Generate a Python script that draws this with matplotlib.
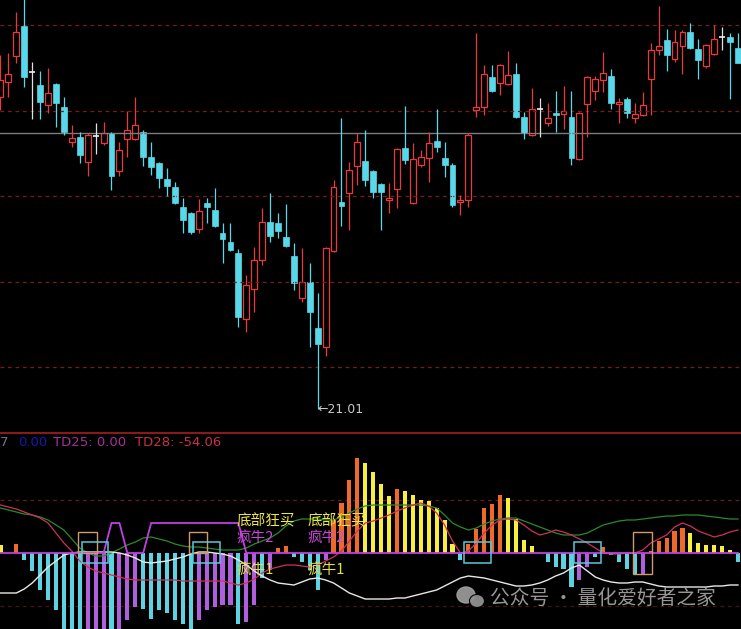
import numpy as np
import matplotlib
matplotlib.use('Agg')
import matplotlib.pyplot as plt
from matplotlib.patches import Rectangle, Ellipse

## ========== daily candles (price)
opens = [28.32, 28.67, 29.28, 29.98, 28.90, 28.60, 28.13, 28.62, 28.08, 27.26,
         27.38, 26.80, 27.40, 27.24, 27.47, 26.59, 27.33, 27.33, 27.50, 26.91,
         26.77, 26.40, 26.21, 25.74, 25.60, 25.23, 25.84, 25.67, 25.14, 24.92,
         24.67, 23.12, 23.82, 24.50, 25.39, 25.37, 25.04, 24.60, 23.61, 23.99,
         22.91, 22.47, 24.71, 25.86, 26.07, 26.70, 26.82, 26.59, 26.28, 25.91,
         26.16, 27.12, 25.84, 26.73, 26.89, 27.29, 26.89, 26.73, 25.86, 25.91,
         28.01, 28.08, 28.78, 28.64, 28.62, 28.85, 27.85, 27.43, 28.03, 27.71,
         27.94, 27.92, 27.85, 26.87, 28.15, 28.46, 28.71, 28.81, 28.15, 28.27,
         27.83, 27.89, 28.74, 29.42, 29.65, 29.20, 29.51, 29.84, 29.44, 29.04,
         29.32, 29.72, 29.72, 29.46]
highs = [29.30, 29.35, 30.30, 30.66, 29.13, 28.92, 28.99, 28.64, 28.32, 27.66,
         27.50, 27.47, 27.71, 27.73, 27.50, 27.26, 27.99, 28.32, 27.54, 27.26,
         26.80, 26.66, 26.33, 25.95, 25.63, 25.93, 25.95, 26.19, 25.37, 25.37,
         24.76, 24.15, 24.81, 25.72, 26.07, 25.60, 25.81, 24.90, 24.78, 24.43,
         23.73, 24.80, 26.37, 27.83, 26.80, 27.47, 27.54, 26.61, 26.30, 26.30,
         27.12, 28.11, 27.24, 27.08, 27.50, 28.03, 27.26, 26.77, 26.02, 27.47,
         29.81, 29.06, 29.06, 29.08, 29.39, 29.11, 27.96, 28.53, 28.29, 28.18,
         28.46, 28.57, 28.46, 27.96, 28.80, 28.81, 29.37, 28.97, 28.29, 28.32,
         28.18, 28.43, 29.58, 30.44, 29.91, 29.88, 29.88, 30.05, 29.67, 29.56,
         30.00, 29.95, 29.81, 29.81]
lows = [28.01, 28.32, 29.11, 28.55, 27.80, 27.80, 27.94, 27.61, 27.43, 27.15,
        26.77, 26.47, 26.98, 27.19, 26.14, 26.47, 26.91, 27.31, 26.70, 26.49,
        26.19, 26.00, 25.81, 25.14, 25.11, 25.14, 25.37, 25.28, 24.43, 24.71,
        22.94, 22.82, 23.29, 24.39, 24.92, 25.02, 24.80, 23.80, 23.52, 22.47,
        21.01, 22.26, 24.70, 25.30, 25.21, 26.26, 26.23, 25.95, 25.21, 25.60,
        25.72, 26.75, 25.82, 26.68, 26.33, 27.03, 26.44, 25.74, 25.56, 25.74,
        27.85, 27.89, 28.43, 28.36, 28.60, 27.83, 27.33, 27.41, 27.38, 27.64,
        27.50, 27.57, 26.73, 26.85, 27.38, 28.25, 28.43, 28.03, 27.71, 27.83,
        27.71, 27.87, 27.89, 29.30, 28.92, 29.13, 28.85, 29.44, 28.74, 29.00,
        29.30, 29.42, 28.27, 29.10]
closes = [28.71, 28.85, 29.84, 28.78, 28.90, 28.20, 28.41, 28.18, 27.50, 27.36,
          26.96, 27.43, 27.40, 27.47, 26.47, 27.08, 27.54, 27.66, 26.91, 26.68,
          26.42, 26.23, 25.84, 25.44, 25.16, 25.65, 25.74, 25.30, 24.99, 24.74,
          23.17, 23.92, 24.50, 25.39, 25.06, 25.18, 24.83, 23.97, 23.99, 23.29,
          22.54, 24.78, 26.21, 25.77, 26.61, 27.26, 26.37, 26.09, 26.09, 25.95,
          27.10, 26.84, 26.87, 26.91, 27.24, 27.15, 26.73, 25.79, 25.91, 27.43,
          28.08, 28.85, 28.46, 29.06, 28.83, 27.85, 27.47, 28.03, 28.03, 27.83,
          27.89, 27.99, 26.89, 27.94, 28.78, 28.74, 28.88, 28.18, 28.20, 27.94,
          27.92, 28.13, 29.42, 29.51, 29.30, 29.60, 29.84, 29.46, 29.18, 29.53,
          29.67, 29.72, 29.60, 29.11]
price_grid = [22, 24, 26, 28, 30]
ref_price = 27.47
low_idx = 40

## ========== indicator panel
hist_vals = [8, 0, 9, -7, -18, -37, -47, -57, -80, -82,
             -85, -85, -85, -85, -85, -80, -67, -54, -56, -66,
             -57, -60, -67, -71, -80, -67, -57, -54, -52, -52,
             -71, -69, -52, -25, -17, 5, 7, -4, -9, -17,
             -37, -7, 33, 50, 73, 95, 90, 81, 69, 57,
             64, 62, 58, 53, 52, 45, 33, 9, -7, 9,
             24, 45, 49, 58, 55, 34, 13, 7, 0, -9,
             -14, -16, -34, -27, -14, -4, 6, -2, -9, -16,
             -21, -21, 2, 12, 15, 22, 25, 20, 10, 8,
             8, 7, 3, -9]
# Y yellow, O orange, C cyan, V violet
hist_kind = ("YYOCCCCCCC" "CVVVCVVVCC" "CCCCCVVVVV" "CVVCVOOCCC" "CVOOOOYYYY"
             "OYYYYYYYCO" "OOOOYYYYYC" "CCCVVCOCCC" "CVOOOOOYYY" "YYYC")
white_line = [-40, -40, -40, -36, -30, -22, -14, -8, -2, 0,
              1, 1, 1, 1, 1, 0, -2, -5, -9, -10,
              -9, -8, -6, -4, -1, 1, 1, 0, -1, -3,
              -7, -12, -18, -23, -27, -30, -31, -32, -29, -26,
              -25, -27, -30, -35, -40, -43, -46, -46, -46, -46,
              -45, -45, -43, -41, -39, -37, -33, -29, -25, -23,
              -24, -25, -27, -29, -31, -33, -33, -32, -30, -27,
              -23, -20, -15, -12, -18, -24, -27, -29, -30, -30,
              -29, -29, -31, -33, -34, -34, -34, -34, -34, -34,
              -33, -33, -32, -32]
pink_line = [48, 46, 44, 41, 38, 35, 30, 20, 10, 2,
             -8, -14, -18, -20, -22, -24, -26, -27, -27, -27,
             -27, -27, -27, -28, -28, -28, -28, -28, -28, -30,
             -32, -30, -26, -20, -16, -14, -12, -12, -13, -14,
             -12, -8, -4, 2, 12, 22, 30, 32, 35, 38,
             42, 45, 48, 50, 47, 40, 28, 12, 0, 2,
             10, 20, 28, 33, 34, 33, 28, 22, 18, 20,
             23, 21, 18, 14, 10, 5, 0, -1, -1, 0,
             0, 3, 10, 14, 18, 26, 30, 27, 22, 19,
             16, 18, 21, 23]
green_line = [45, 43, 41, 39, 38, 36, 33, 28, 23, 14,
              5, 0, -3, -3, 0, 4, 8, 11, 15, 16,
              14, 12, 9, 7, 6, 6, 5, 4, 3, 3,
              3, 5, 9, 12, 15, 20, 27, 32, 34, 34,
              34, 33, 33, 36, 40, 44, 47, 48, 48, 48,
              48, 48, 48, 48, 47, 45, 38, 30, 26, 23,
              25, 29, 32, 34, 35, 35, 32, 29, 26, 23,
              20, 18, 18, 18, 20, 24, 28, 30, 32, 33,
              33, 34, 35, 36, 37, 37, 38, 38, 38, 37,
              36, 35, 34, 34]
step_line = [0] * 94
for k in [14, 15] + list(range(19, 31)):
    step_line[k] = 30
# (start, end, bottom, top)
tan_boxes = [(9.8, 12.2, 0, 21), (23.8, 26.1, 0, 21), (79.8, 82.2, -21, 21)]
cyan_boxes = [(10.3, 13.6, -10, 11), (24.3, 27.7, -10, 11),
              (58.4, 61.8, -10, 11), (72.3, 75.7, -10, 11)]
signal_idx = [29.8, 38.7]

RED = '#e8393c'
CYAN = '#58d8e8'
kind_color = {'Y': '#f6f03c', 'O': '#ee6a2a', 'C': '#5cd2e2', 'V': '#b05ee0'}

plt.rcParams['font.family'] = ['Noto Sans CJK SC', 'DejaVu Sans']

W, H = 741, 629
fig = plt.figure(figsize=(W / 100, H / 100), dpi=100, facecolor='black')
ax1 = fig.add_axes([0, 1 - 432 / H, 1, 432 / H])
ax2 = fig.add_axes([0, 0, 1, 197 / H])
for ax in (ax1, ax2):
    ax.set_facecolor('black')
    ax.axis('off')

n = len(opens)
x = np.arange(n)
xlim = (-0.06, 93.38)

## ========== price panel
for g in price_grid:
    ax1.axhline(g, color='#7a1a1a', lw=0.9, ls=(0, (3, 3)))
ax1.axhline(ref_price, color='#7c7c7c', lw=1.0)

bw = 0.74
for i in x:
    o, h, l, c = opens[i], highs[i], lows[i], closes[i]
    if c > o:
        ax1.vlines(i, c, h, color=RED, lw=0.9)
        ax1.vlines(i, l, o, color=RED, lw=0.9)
        ax1.add_patch(Rectangle((i - bw / 2, o), bw, c - o, fill=False, ec=RED, lw=0.9))
    elif c < o:
        ax1.vlines(i, l, h, color=CYAN, lw=0.9)
        ax1.add_patch(Rectangle((i - bw / 2, c), bw, o - c, fc=CYAN, ec=CYAN, lw=0.5))
    else:
        ax1.vlines(i, l, h, color='#e0e0e0', lw=0.9)
        ax1.hlines(o, i - bw / 2, i + bw / 2, color='#f0f0f0', lw=1.2)

ax1.text(low_idx, lows[low_idx], '\u2190' + f'{lows[low_idx]:.2f}', color='#c8c8c8',
         fontsize=9, family='DejaVu Sans', ha='left', va='center')
ax1.set_xlim(*xlim)
ax1.set_ylim(20.48, 30.585)

## ========== indicator panel
ax2.axhline(53, color='#6a1818', lw=0.9, ls=(0, (3, 3)))
ax2.axhline(-53, color='#4a1414', lw=0.9, ls=(0, (3, 3)))
ax2.bar(x, hist_vals, width=0.52, color=[kind_color[k] for k in hist_kind], zorder=2)
ax2.plot(x, green_line, color='#2a8a2a', lw=0.9, zorder=3)
ax2.plot(x, pink_line, color='#d0305a', lw=0.9, zorder=3)
ax2.plot(x, white_line, color='#e8e8e8', lw=1.0, zorder=3)
ax2.plot(x, step_line, color='#c040e0', lw=1.3, zorder=3)
for x0, x1, b, t in tan_boxes:
    ax2.add_patch(Rectangle((x0, b), x1 - x0, t - b, fill=False, ec='#d09a70', lw=1.0, zorder=4))
for x0, x1, b, t in cyan_boxes:
    ax2.add_patch(Rectangle((x0, b), x1 - x0, t - b, fill=False, ec='#58c8d8', lw=1.1, zorder=4))
for sx in signal_idx:
    ax2.text(sx, 32, '底部狂买', color='#f0e840', fontsize=10.5, ha='left', va='center', zorder=5)
    ax2.text(sx, 15, '疯牛2', color='#c848d8', fontsize=10.5, ha='left', va='center', zorder=5)
    ax2.text(sx, -17, '疯牛1', color='#e8e040', fontsize=10.5, ha='left', va='center', zorder=5)
ax2.axhline(120.3, color='#9a1c1c', lw=1.3)
ax2.set_xlim(*xlim)
ax2.set_ylim(-76, 121)

hy = (H - 443) / 197
ax2.text(0 / W, hy, '7', transform=ax2.transAxes, color='#707090', fontsize=9.5,
         family='DejaVu Sans', va='center')
ax2.text(18 / W, hy, '0.00', transform=ax2.transAxes, color='#1818b0', fontsize=9.5,
         family='DejaVu Sans', va='center')
ax2.text(53 / W, hy, 'TD25: 0.00', transform=ax2.transAxes, color='#a8309a', fontsize=9.5,
         family='DejaVu Sans', va='center')
ax2.text(135 / W, hy, 'TD28: -54.06', transform=ax2.transAxes, color='#c83048', fontsize=9.5,
         family='DejaVu Sans', va='center')

## ========== watermark
fig.text(490 / W, (H - 598) / H, '公众号 · 量化爱好者之家', color='#a8a8a8', alpha=0.9,
         fontsize=14.2, va='center', ha='left')
fig.add_artist(Ellipse((466 / W, (H - 595) / H), 18 / W, 16 / H, color='#a0a0a0', alpha=0.9))
fig.add_artist(Ellipse((477 / W, (H - 601) / H), 15 / W, 13 / H, color='#909090', alpha=0.95,
                       ec='black', lw=0.8))

fig.savefig('out.png', dpi=100, facecolor='black')
